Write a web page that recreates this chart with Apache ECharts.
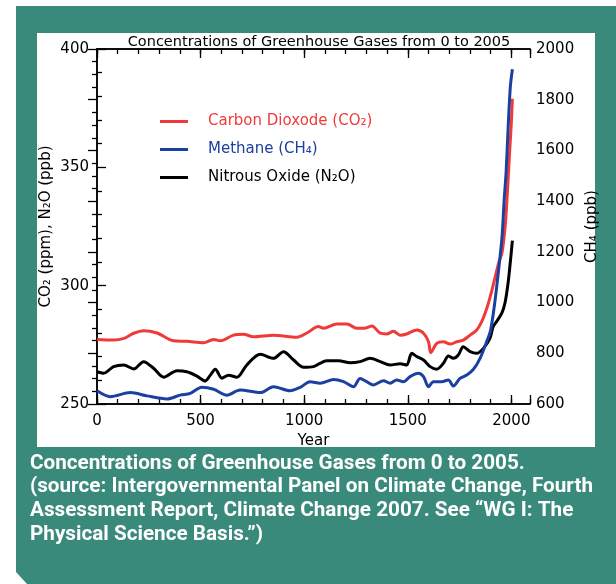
<!DOCTYPE html>
<html>
<head>
<meta charset="utf-8">
<script src="https://cdn.jsdelivr.net/npm/echarts@6/dist/echarts.min.js"></script>
<style>
html,body{margin:0;padding:0;background:#fff;}
#chart{width:616px;height:584px;}
</style>
</head>
<body>
<div id="chart"></div>
<script>
// ---- data ----
var co2Years = [0,80,130,177,225,290,370,434,514,563,595,659,707,755,852,965,1013,1069,1093,1158,1206,1254,1290,1327,1367,1399,1431,1463,1495,1544,1576,1600,1611,1640,1672,1704,1737,1768,1801,1833,1857,1880,1900,1920,1940,1955,1970,1980,1990,2000,2005];
var co2Values = [277.3,277,277.7,279.9,281,280,276.7,276.5,275.9,277.3,276.7,279.1,279.5,278.4,279.1,278.2,280,282.7,282,283.8,283.8,282,282,283,279.9,279.6,280.7,279.1,279.6,281.3,279.9,276.3,271.7,275.6,276.3,275.3,276.3,277,279.1,281.3,284.8,290,296,303,310,314,325,338,354,369,379];

var ch4Years = [0,64,161,241,338,402,450,506,563,627,691,788,852,932,981,1029,1077,1142,1190,1238,1270,1302,1334,1383,1415,1447,1479,1511,1551,1576,1600,1624,1664,1696,1720,1752,1785,1817,1849,1881,1900,1920,1940,1955,1965,1975,1985,1995,2005];
var ch4Values = [652,629,645,632,620,635,642,666,658,635,655,645,668,652,666,688,682,697,688,668,701,688,675,692,682,695,688,708,721,708,668,688,688,695,671,701,714,737,780,846,892,1000,1140,1260,1400,1520,1700,1850,1920];

var n2oYears = [0,32,80,129,177,225,273,322,386,434,482,522,547,571,603,635,675,723,788,852,900,949,997,1045,1109,1166,1222,1270,1318,1367,1415,1463,1495,1519,1544,1576,1608,1640,1672,1696,1720,1744,1768,1801,1833,1865,1897,1912,1930,1954,1970,1984,1995,2005];
var n2oValues = [263.6,263,265.8,266.5,264.8,267.9,265.1,261.3,264.1,263.6,261.8,259.7,262.2,264.7,260.9,262.2,261.3,266.5,271,269.3,272.1,268.6,265.5,265.8,268.3,268.3,267.4,267.9,269.3,267.9,266.5,267,266.5,271.4,270,268.6,265.8,264.7,267.2,270.3,269.3,270.7,274.2,272.1,271.4,273.5,277.8,282.7,285,288.4,293,301,310,319];

var seriesNames = ['Carbon Dioxode (CO₂)', 'Methane (CH₄)', 'Nitrous Oxide (N₂O)'];
var chartTitle = 'Concentrations of Greenhouse Gases from 0 to 2005';
var leftAxisName = 'CO₂ (ppm), N₂O (ppb)';
var rightAxisName = 'CH₄ (ppb)';
var xAxisName = 'Year';
var captionLines = [
  'Concentrations of Greenhouse Gases from 0 to 2005.',
  '(source: Intergovernmental Panel on Climate Change, Fourth',
  'Assessment Report, Climate Change 2007. See “WG I: The',
  'Physical Science Basis.”)'
];

function pairs(xs, ys){ return xs.map(function(x,i){ return [x, ys[i]]; }); }

var RED = '#f03a3a', BLUE = '#1a40a0', BLACK = '#000000', TEAL = '#3a8a7c';
var FONT = 'DejaVu Sans';
var X_MIN = 0, X_MAX = 2090;
function plain(v){ return String(v); }

function xAx(pos, interval, major, showLabel, extra){
  var a = {
    type: 'value', position: pos, min: X_MIN, max: X_MAX, interval: interval,
    axisLine: { show: true, lineStyle: { color: '#000', width: 1.5 } },
    axisTick: { show: true, inside: true, length: major ? 9 : 5, lineStyle: { color: '#000', width: 1.3 } },
    axisLabel: { show: showLabel, color: '#000', fontSize: 15, fontFamily: FONT, margin: 10,
      formatter: function(v){ return (v % 500 === 0) ? String(v) : ''; } },
    splitLine: { show: false }
  };
  if (extra) for (var k in extra) a[k] = extra[k];
  return a;
}

var chart = echarts.init(document.getElementById('chart'), null, { renderer: 'canvas' });
var graphics = [
  { type: 'polygon', z: -100, silent: true,
    shape: { points: [[16,6],[616,6],[616,584],[27,584],[16,572]] },
    style: { fill: TEAL } },
  { type: 'rect', z: -99, silent: true,
    shape: { x: 37, y: 33, width: 558, height: 414 },
    style: { fill: '#ffffff' } }
];
captionLines.forEach(function(t, i){
  graphics.push({ type: 'text', left: 30, top: 453 + i * 23.7, silent: true,
    style: { text: t, fill: '#ffffff', font: 'bold 20.7px "Roboto", sans-serif' } });
});

chart.setOption({
  animation: false,
  backgroundColor: 'transparent',
  title: { text: chartTitle, left: 314, top: 30, textAlign: 'center',
    textStyle: { fontSize: 14.5, fontWeight: 'normal', color: '#000', fontFamily: FONT } },
  grid: { left: 97, right: 86, top: 49, bottom: 180, containLabel: false },
  legend: {
    orient: 'vertical', left: 160, top: 114, itemGap: 13, padding: 0,
    icon: 'rect', itemWidth: 28, itemHeight: 3,
    textStyle: { fontSize: 15, fontFamily: FONT, padding: [0,0,0,15] },
    data: [
      { name: seriesNames[0], textStyle: { color: RED } },
      { name: seriesNames[1], textStyle: { color: BLUE } },
      { name: seriesNames[2], textStyle: { color: BLACK } }
    ]
  },
  xAxis: [
    xAx('bottom', 500, true, true, { name: xAxisName, nameLocation: 'middle', nameGap: 28,
      nameTextStyle: { fontSize: 15, fontFamily: FONT, color: '#000' } }),
    xAx('bottom', 100, false, false),
    xAx('top', 500, true, false),
    xAx('top', 100, false, false)
  ],
  yAxis: [
    { type: 'value', position: 'left', min: 250, max: 400, interval: 50,
      name: leftAxisName, nameLocation: 'middle', nameRotate: 90, nameGap: 43, nameMoveOverlap: false,
      nameTextStyle: { fontSize: 15, fontFamily: FONT, color: '#000' },
      axisLine: { show: true, lineStyle: { color: '#000', width: 1.5 } },
      axisTick: { show: true, inside: true, length: 9, lineStyle: { color: '#000', width: 1.3 } },
      minorTick: { show: true, splitNumber: 5, length: 5, lineStyle: { color: '#000', width: 1.3 } },
      axisLabel: { color: '#000', fontSize: 15, fontFamily: FONT, margin: 8, formatter: plain },
      splitLine: { show: false } },
    { type: 'value', position: 'right', min: 600, max: 2000, interval: 200,
      name: rightAxisName, nameLocation: 'middle', nameRotate: 90, nameGap: 50,
      nameTextStyle: { fontSize: 15, fontFamily: FONT, color: '#000' },
      axisLine: { show: true, lineStyle: { color: '#000', width: 1.5 } },
      axisTick: { show: true, inside: true, length: 9, lineStyle: { color: '#000', width: 1.3 } },
      minorTick: { show: true, splitNumber: 4, length: 5, lineStyle: { color: '#000', width: 1.3 } },
      axisLabel: { color: '#000', fontSize: 15, fontFamily: FONT, margin: 6, formatter: plain },
      splitLine: { show: false } }
  ],
  graphic: graphics,
  series: [
    { name: seriesNames[0], type: 'line', xAxisIndex: 0, yAxisIndex: 0, data: pairs(co2Years, co2Values),
      symbol: 'none', smooth: 0.3, lineStyle: { color: RED, width: 3 }, itemStyle: { color: RED }, z: 3 },
    { name: seriesNames[1], type: 'line', xAxisIndex: 0, yAxisIndex: 1, data: pairs(ch4Years, ch4Values),
      symbol: 'none', smooth: 0.3, lineStyle: { color: BLUE, width: 3 }, itemStyle: { color: BLUE }, z: 4 },
    { name: seriesNames[2], type: 'line', xAxisIndex: 0, yAxisIndex: 0, data: pairs(n2oYears, n2oValues),
      symbol: 'none', smooth: 0.3, lineStyle: { color: BLACK, width: 3 }, itemStyle: { color: BLACK }, z: 2 }
  ]
});
</script>
</body>
</html>
